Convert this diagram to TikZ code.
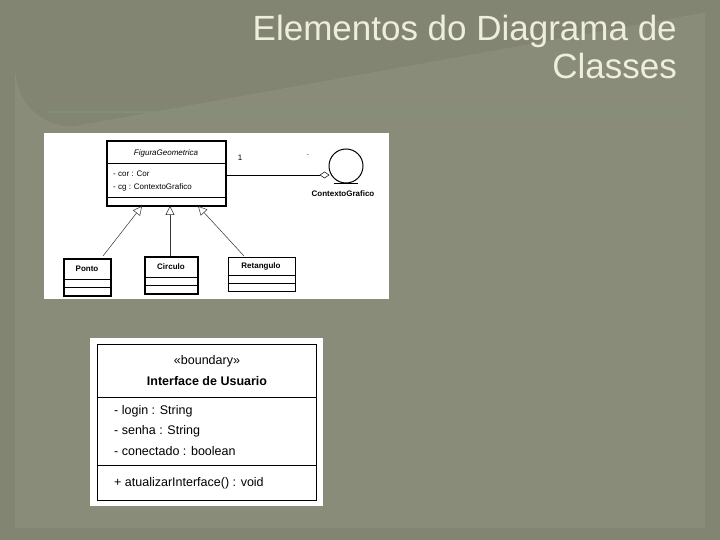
\documentclass[tikz,border=0pt]{standalone}
\usepackage{fontspec}
\setmainfont{Liberation Sans}
\usetikzlibrary{arrows.meta}
\definecolor{bg}{HTML}{838573}
\definecolor{panel}{HTML}{8A8C7A}
\definecolor{titlec}{HTML}{EEEEDA}
\definecolor{rule}{HTML}{7E9078}
\begin{document}
\begin{tikzpicture}[x=1pt,y=-1pt,
  cls/.style={draw=black,line width=1.4pt,fill=white},
  gen/.style={draw=black!80,line width=0.5pt,-{Triangle[open,length=9pt,width=9pt]}},
  t/.style={font=\fontsize{8}{9}\selectfont,inner sep=0pt},
  tb/.style={font=\bfseries\fontsize{8}{9}\selectfont,inner sep=0pt},
  u/.style={font=\fontsize{12.5}{14}\selectfont,inner sep=0pt,anchor=west}]
\useasboundingbox (0,0) rectangle (720,540);
\fill[bg] (0,0) rectangle (720,540);
\fill[panel,draw=bg!90!white] (15,528) -- (15,70) arc[start angle=180,end angle=90,radius=57] -- (705,13) -- (705,528) -- cycle;
\node[font=\fontsize{35}{40}\selectfont,text=titlec,align=right,anchor=north east,inner sep=0pt] (title) at (677,15) {Elementos do Diagrama de\\[-2pt]Classes};
\draw[rule,line width=1.2pt] (48,112) -- (688,112);
% top diagram
\fill[white] (44,133) rectangle (389,299);
\draw[cls] (107,141) rectangle (226,206);
\draw[black,line width=0.8pt] (107,163) -- (226,163) (107,197) -- (226,197);
\node[t,font=\itshape\fontsize{8}{9}\selectfont] (fg) at (166,153) {FiguraGeometrica};
\node[t,anchor=west] (a1) at (113,174) {- cor : Cor};
\node[t,anchor=west] (a2) at (113,187) {- cg : ContextoGrafico};
\coordinate (fgr) at (226,175);
\draw[line width=1pt] (346,166) circle (17);
\draw[line width=1pt] (334,184) -- (358,184);
\coordinate (dia) at (320,175);
\draw[line width=0.5pt] (fgr) -- (dia);
\draw[line width=0.5pt,fill=white] (dia) -- (324.5,172) -- (329,175) -- (324.5,178) -- cycle;
\node[t] (one) at (240,158) {1};
\node[t] (dot) at (308,155) {.};
\node[tb] (cgl) at (343,194) {ContextoGrafico};
\draw[cls] (64,259) rectangle (111,296);
\draw[line width=0.8pt] (64,279) -- (111,279) (64,287) -- (111,287);
\node[tb] (ponto) at (87,269) {Ponto};
\draw[cls] (145,257) rectangle (198,294);
\draw[line width=0.8pt] (145,277) -- (198,277) (145,285) -- (198,285);
\node[tb] (circ) at (171,267) {Circulo};
\draw[draw=black,line width=0.8pt,fill=white] (228,257) rectangle (295,291);
\draw[line width=0.8pt] (228,275) -- (295,275) (228,283) -- (295,283);
\node[tb] (ret) at (261,266) {Retangulo};
\coordinate (p1) at (103,256); \coordinate (p2) at (142,206);
\coordinate (c1) at (170,256); \coordinate (c2) at (170,206);
\coordinate (r1) at (244,256); \coordinate (r2) at (198,206);
\draw[gen] (p1) -- (p2);
\draw[gen] (c1) -- (c2);
\draw[gen] (r1) -- (r2);
% bottom diagram
\fill[white] (90,338) rectangle (323,506);
\draw[black,line width=1pt] (97,344) rectangle (316,500);
\draw[black,line width=1pt] (97,397) -- (316,397) (97,465) -- (316,465);
\node[font=\fontsize{12.5}{14}\selectfont,inner sep=0pt] (st) at (207,361) {<<boundary>>};
\node[font=\bfseries\fontsize{12.5}{14}\selectfont,inner sep=0pt] (nm) at (207,381) {Interface de Usuario};
\node[u] (l1) at (114,411) {- login : String};
\node[u] (l2) at (114,431) {- senha : String};
\node[u] (l3) at (114,451) {- conectado : boolean};
\node[u] (op) at (114,483) {+ atualizarInterface() : void};
\end{tikzpicture}
\end{document}
